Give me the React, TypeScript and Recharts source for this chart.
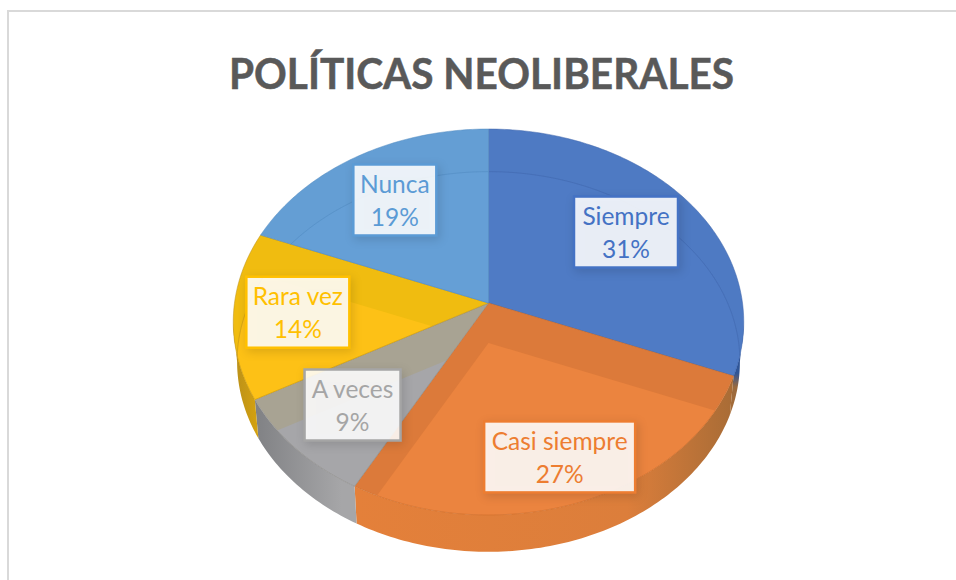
import { Cell, Pie, PieChart } from "recharts";

const categories = ["Siempre", "Casi siempre", "A veces", "Rara vez", "Nunca"];
const shares = [31, 27, 9, 14, 19];
const chartTitle = "POLÍTICAS NEOLIBERALES";

const chartData = categories.map((name, i) => ({ name, value: shares[i] }));

// top: lit part of the face, band: part where the slice wall shows through
const sliceStyles = [
  { base: "#4472C4", top: "#4F7BC5", band: "#4E7AC3", edge: "#3F66AC" },
  { base: "#ED7D31", top: "#EB843F", band: "#DC7A3A", edge: "#C96A25" },
  { base: "#A5A5A5", top: "#A6A6A9", band: "#A8A393", edge: "#8A8A8A" },
  { base: "#FFC000", top: "#FDC116", band: "#F0BC10", edge: "#B98F1A" },
  { base: "#5B9BD5", top: "#659FD6", band: "#649ED4", edge: "#4F89BF" },
];

// wall shading: [offset, colour] stops, vertical for the sliver on the right
const wallStops: [number, string][][] = [
  [[0, "#2F5597"], [0.55, "#2F5597"], [0.7, "#9A6A3E"], [1, "#A86C36"]],
  [[0, "#E4803A"], [0.72, "#DC7E3B"], [1, "#A86C36"]],
  [[0, "#808184"], [0.85, "#A6A6A8"], [1, "#A6A6A8"]],
  [[0, "#B98F1A"], [1, "#D5A20F"]],
  [[0, "#5B9BD5"], [1, "#5B9BD5"]],
];
const verticalWall = [true, false, false, false, false];

// manual data label layout, relative to the slice's mid point
const labelLayout = [
  { dx: 15.5, dy: -8.6, width: 104 },
  { dx: 16.5, dy: 39.7, width: 151 },
  { dx: -23.5, dy: 17.4, width: 96 },
  { dx: -38, dy: 2, width: 103 },
  { dx: -12, dy: -12.6, width: 83 },
];

const FONT = "Lato, 'Open Sans', sans-serif";
const CENTER_X = 488.5;
const CENTER_Y = 303;
const RADIUS = 254;
// pie tilt: perspective of the disc seen from above
const TILT_A = 191.1 / 254;
const TILT_C = -0.0984;
const DEPTH = 40;
const FLOOR_SCALE = 0.985;
const WALL_FROM = 95.65;
const WALL_TO = 264.35;

type Pt = [number, number];

// clockwise degrees from 12 o'clock to a point on the tilted disc
function project(deg: number, r: number, f = 1): Pt {
  const t = (deg * Math.PI) / 180;
  const u = f * Math.sin(t);
  const v = -f * Math.cos(t);
  const den = 1 + TILT_C * v;
  return [(r * u) / den, (r * TILT_A * v) / den];
}

function arcPoints(from: number, to: number, r: number): Pt[] {
  const pts: Pt[] = [];
  const steps = Math.max(1, Math.ceil(Math.abs(to - from)));
  for (let i = 0; i <= steps; i++) pts.push(project(from + ((to - from) * i) / steps, r));
  return pts;
}

function toPath(pts: Pt[], cx: number, cy: number, scale = 1, close = true) {
  const d = pts
    .map((p, i) => `${i ? "L" : "M"}${(cx + p[0] * scale).toFixed(2)} ${(cy + p[1] * scale).toFixed(2)}`)
    .join(" ");
  return close ? d + " Z" : d;
}

function renderSlice(props: any) {
  const { cx, cy, outerRadius, startAngle, endAngle, index } = props;
  const style = sliceStyles[index];
  const from = 90 - startAngle;
  const to = 90 - endAngle;
  const rim = arcPoints(from, to, outerRadius);
  const face = toPath([[0, 0], ...rim], cx, cy);
  const floor = toPath([[0, 0], ...rim], cx, cy + DEPTH, FLOOR_SCALE);
  const floorArc = toPath(rim, cx, cy + DEPTH, FLOOR_SCALE, false);

  const wallStart = Math.max(from, WALL_FROM);
  const wallEnd = Math.min(to, WALL_TO);
  let wall = null;
  if (wallEnd > wallStart) {
    const arc = arcPoints(wallStart, wallEnd, outerRadius);
    const upperD = toPath(arc, cx, cy, 1, false);
    const lowerD = toPath([...arc].reverse(), cx, cy + DEPTH, FLOOR_SCALE, false).replace("M", "L");
    wall = (
      <g>
        <linearGradient
          id={`wall-${index}`}
          x1="0"
          y1="0"
          x2={verticalWall[index] ? "0" : "1"}
          y2={verticalWall[index] ? "1" : "0"}
        >
          {wallStops[index].map(([offset, color]) => (
            <stop key={offset} offset={offset} stopColor={color} />
          ))}
        </linearGradient>
        <path d={`${upperD} ${lowerD} Z`} fill={`url(#wall-${index})`} />
      </g>
    );
  }

  return (
    <g>
      {wall}
      <clipPath id={`floor-${index}`}>
        <path d={floor} />
      </clipPath>
      <clipPath id={`face-${index}`}>
        <path d={face} />
      </clipPath>
      <path d={face} fill={style.band} />
      <path d={face} fill={style.top} clipPath={`url(#floor-${index})`} />
      <path
        d={floorArc}
        fill="none"
        stroke={style.edge}
        strokeOpacity={0.5}
        strokeWidth={1}
        clipPath={`url(#face-${index})`}
      />
      <path d={face} fill="none" stroke={style.edge} strokeOpacity={0.5} strokeWidth={1} />
    </g>
  );
}

function renderLabel(props: any) {
  const { cx, cy, outerRadius, midAngle, percent, name, index } = props;
  const style = sliceStyles[index];
  const layout = labelLayout[index];
  const p = project(90 - midAngle, outerRadius, 0.6);
  const x = cx + p[0] + layout.dx;
  const y = cy + p[1] + layout.dy;
  return (
    <g>
      <rect
        x={x - layout.width / 2}
        y={y - 35.5}
        width={layout.width}
        height={71}
        fill="#FFFFFF"
        fillOpacity={0.88}
        stroke={style.base}
        strokeWidth={2.5}
        style={{ filter: "drop-shadow(2px 3px 5px rgba(0,0,0,0.14))" }}
      />
      <text x={x} y={y - 7} textAnchor="middle" fontFamily={FONT} fontSize={24.5} fill={style.base}>
        {name}
      </text>
      <text x={x} y={y + 26} textAnchor="middle" fontFamily={FONT} fontSize={24.5} fill={style.base}>
        {`${Math.round(percent * 100)}%`}
      </text>
    </g>
  );
}

export default function App() {
  return (
    <div style={{ position: "absolute", left: 0, top: 0, width: 956, height: 580, background: "#FFFFFF" }}>
      <div
        style={{
          position: "absolute",
          left: 7,
          top: 10,
          right: 0,
          bottom: 0,
          borderLeft: "2px solid #D9D9D9",
          borderTop: "2px solid #D9D9D9",
        }}
      />
      <div style={{ position: "absolute", left: 0, top: 0 }}>
        <PieChart width={956} height={580} margin={{ top: 0, right: 0, bottom: 0, left: 0 }}>
          <text
            x={481.5}
            y={88.5}
            textAnchor="middle"
            fontFamily={FONT}
            fontWeight={700}
            fontSize={42}
            textLength={505}
            lengthAdjust="spacingAndGlyphs"
            fill="#595959"
            stroke="#595959"
            strokeWidth={0.5}
          >
            {chartTitle}
          </text>
          <Pie
            data={chartData}
            dataKey="value"
            nameKey="name"
            cx={CENTER_X}
            cy={CENTER_Y}
            outerRadius={RADIUS}
            startAngle={90}
            endAngle={-270}
            stroke="none"
            shape={renderSlice}
            label={renderLabel}
            labelLine={false}
            isAnimationActive={false}
          >
            {chartData.map((d, i) => (
              <Cell key={d.name} fill={sliceStyles[i].base} />
            ))}
          </Pie>
        </PieChart>
      </div>
    </div>
  );
}
